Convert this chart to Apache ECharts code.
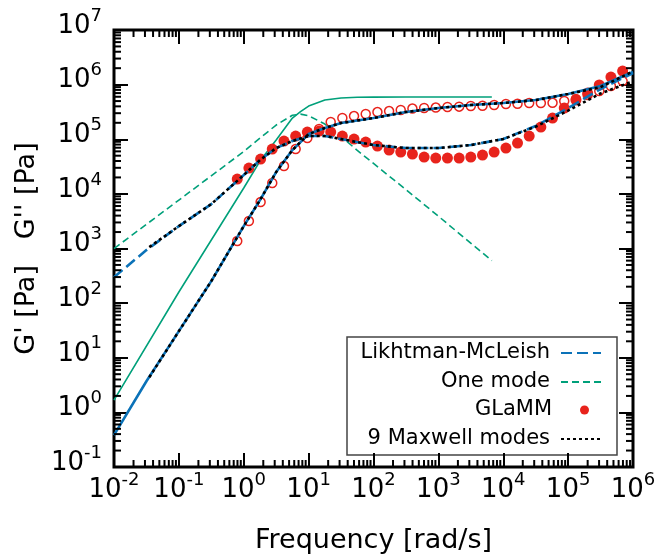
<!DOCTYPE html>
<html>
<head>
<meta charset="utf-8">
<script src="https://cdn.jsdelivr.net/npm/echarts@6/dist/echarts.min.js"></script>
<style>
  html, body { margin: 0; padding: 0; background: #fff; }
  #chart { width: 663px; height: 558px; }
</style>
</head>
<body>
<div id="chart"></div>
<script>
// GLaMM points (open = G', filled = G'')
const glammFreq = [0.794, 1.20, 1.82, 2.75, 4.17, 6.31, 9.55, 14.5, 21.9, 33.1, 50.1, 75.9, 115, 174, 263, 398, 603, 912,
  1380, 2090, 3160, 4790, 7240, 11000, 16600, 25100, 38000, 57500, 87100, 132000, 200000, 302000, 457000, 692000];
const glammGp = [1370, 3180, 7080, 15800, 32300, 66200, 105000, 154000, 207000, 245000, 266000, 290000, 315000, 328000, 343000,
  365000, 373000, 380000, 389000, 395000, 406000, 410000, 423000, 442000, 445000, 460000, 460000, 465000, 501000, 545000,
  645000, 764000, 942000, 1160000];
const glammGpp = [18700, 29700, 43400, 66200, 92700, 114500, 135500, 141300, 135500, 114500, 100900, 88900, 75000, 63400,
  58300, 53600, 47200, 45300, 45300, 45300, 47200, 51400, 58300, 69000, 85100, 114500, 167000, 244500, 372600, 522000,
  702000, 984000, 1377000, 1774000];

// Likhtman-McLeish
const lmFreq = [0.01, 0.0316, 0.1, 0.316, 1, 1.78, 3.16, 5.62, 10, 17.8, 31.6, 100, 316, 1000, 3160, 10000, 31600, 100000, 316000, 1000000];
const lmGp = [0.382, 3.72, 30.7, 253, 2570, 7690, 25100, 63400, 124500, 160300, 198100, 244500, 315000, 372600, 422600,
  460300, 522400, 672900, 942000, 1702000];
const lmGpp = [299, 935, 2570, 6500, 22100, 41600, 69000, 92700, 114500, 114500, 100900, 78300, 69000, 69000, 78300,
  100900, 174600, 372600, 830000, 1630000];

// 9 Maxwell modes
const mmFreq = [0.035, 0.1, 0.316, 1, 1.78, 3.16, 5.62, 10, 17.8, 31.6, 100, 316, 1000, 3160, 10000, 31600, 100000, 316000, 1000000];
const mmGp = [4.4, 30.7, 253, 2570, 7690, 25100, 63400, 124500, 160300, 198100, 244500, 315000, 372600, 422600, 460300,
  522400, 672900, 900000, 1750000];
const mmGpp = [1060, 2570, 6500, 22100, 41600, 69000, 92700, 114500, 114500, 100900, 78300, 69000, 69000, 78300, 100900,
  170000, 335000, 690000, 1150000];

// One mode
const omFreq = [0.01, 0.1, 1, 1.78, 3.16, 5.62, 7.5, 10, 17.8, 31.6, 56.2, 100, 316, 1000, 6670];
const omGp = [1.67, 160, 12800, 39800, 96600, 244000, 320000, 405000, 522000, 570000, 586000, 591000, 593000, 593000, 593000];
const omGpp = [996, 7700, 59600, 105000, 182000, 275000, 288000, 270000, 190000, 112000, 62600, 36000, 12000, 3900, 600];

const FONT = 'DejaVu Sans';
const BLUE = '#0b72b8';
const GREEN = '#00a07a';
const RED = '#e8231c';

function pairs(xs, ys) {
  return xs.map((x, i) => [x, ys[i]]);
}

// minor tick positions 2..9 in each decade
function minorTicks(lo, hi) {
  const out = [];
  for (let e = lo; e < hi; e++) {
    for (let m = 2; m <= 9; m++) out.push(m * Math.pow(10, e));
  }
  return out;
}
const xMinor = minorTicks(-2, 6);
const yMinor = minorTicks(-1, 7);

const powLabel = v => '{b|10}{e|' + Math.round(Math.log10(v)) + '}';
const labelRich = {
  b: { fontFamily: FONT, fontSize: 26, color: '#000', lineHeight: 26, verticalAlign: 'bottom' },
  e: { fontFamily: FONT, fontSize: 18, color: '#000', lineHeight: 18, verticalAlign: 'bottom', padding: [0, 0, 14, 0] }
};

function minorTickSeries(values, isX) {
  return {
    type: 'custom',
    silent: true,
    z: 6,
    data: values.map(v => (isX ? [v, 1] : [1, v])),
    renderItem(params, api) {
      const cs = params.coordSys;
      const p = api.coord([api.value(0), api.value(1)]);
      const L = 7;
      const st = { stroke: '#000', lineWidth: 2 };
      if (isX) {
        return {
          type: 'group',
          children: [
            { type: 'line', shape: { x1: p[0], y1: cs.y + cs.height, x2: p[0], y2: cs.y + cs.height - L }, style: st },
            { type: 'line', shape: { x1: p[0], y1: cs.y, x2: p[0], y2: cs.y + L }, style: st }
          ]
        };
      }
      return {
        type: 'group',
        children: [
          { type: 'line', shape: { x1: cs.x, y1: p[1], x2: cs.x + L, y2: p[1] }, style: st },
          { type: 'line', shape: { x1: cs.x + cs.width, y1: p[1], x2: cs.x + cs.width - L, y2: p[1] }, style: st }
        ]
      };
    }
  };
}

const tickStyle = { inside: true, length: 14, lineStyle: { color: '#000', width: 2 } };

function xAx(pos, withLabels) {
  return {
    type: 'log', logBase: 10, min: 0.01, max: 1e6, splitNumber: 8, position: pos,
    axisLine: { show: false }, axisTick: tickStyle, splitLine: { show: false },
    axisLabel: withLabels
      ? { formatter: powLabel, rich: labelRich, margin: 10, showMinLabel: true, showMaxLabel: true }
      : { show: false },
    name: withLabels ? 'Frequency [rad/s]' : '',
    nameLocation: 'middle', nameGap: 60,
    nameTextStyle: { fontFamily: FONT, fontSize: 27, color: '#000' }
  };
}
function yAx(pos, withLabels) {
  return {
    type: 'log', logBase: 10, min: 0.1, max: 1e7, splitNumber: 8, position: pos,
    axisLine: { show: false }, axisTick: tickStyle, splitLine: { show: false },
    axisLabel: withLabels
      ? { formatter: powLabel, rich: labelRich, margin: 12, padding: [0, 0, 8, 0], showMinLabel: true, showMaxLabel: true }
      : { show: false },
    name: withLabels ? "G' [Pa]   G'' [Pa]" : '',
    nameLocation: 'middle', nameGap: 58,
    nameTextStyle: { fontFamily: FONT, fontSize: 27, color: '#000' }
  };
}

// one legend per row so that the icons line up on the right
const legendBase = {
  orient: 'horizontal', align: 'right', right: 61, padding: 0,
  itemWidth: 40, itemHeight: 12, selectedMode: false,
  itemStyle: { opacity: 0 },
  textStyle: { fontFamily: FONT, fontSize: 21, lineHeight: 24, color: '#000', padding: [0, 6, 0, 0] }
};

const lineSeries = (name, xs, ys, color, type, width, z) => ({
  name, type: 'line', data: pairs(xs, ys), symbol: 'none', z,
  lineStyle: { color, width, type }, itemStyle: { color },
  emphasis: { disabled: true }
});

let myChart = echarts.init(document.getElementById('chart'), null, { renderer: 'canvas' });

let option = {
  animation: false,
  backgroundColor: '#fff',
  grid: {
    left: 114, right: 30, top: 30, bottom: 91,
    show: true, borderColor: '#000', borderWidth: 3,
    containLabel: false, outerBoundsMode: 'none'
  },
  xAxis: [xAx('bottom', true), xAx('top', false)],
  yAxis: [yAx('left', true), yAx('right', false)],
  legend: [
    Object.assign({}, legendBase, { top: 341, data: ['Likhtman-McLeish'] }),
    Object.assign({}, legendBase, { top: 370, data: ['One mode'] }),
    Object.assign({}, legendBase, {
      top: 398, right: 74, itemWidth: 9, itemHeight: 9,
      itemStyle: { opacity: 1 },
      textStyle: Object.assign({}, legendBase.textStyle, { padding: [0, 23, 0, 0] }),
      data: [{ name: 'GLaMM', icon: 'circle' }]
    }),
    Object.assign({}, legendBase, { top: 427, data: ['9 Maxwell modes'] })
  ],
  graphic: [{
    type: 'rect', z: 0,
    shape: { x: 347, y: 337, width: 270, height: 118 },
    style: { fill: '#fff', stroke: '#444', lineWidth: 1.5 }
  }],
  series: [
    lineSeries("One mode G'", omFreq, omGp, GREEN, 'solid', 1.6, 2),
    lineSeries('One mode', omFreq, omGpp, GREEN, [7, 4], 1.6, 2),
    {
      name: "GLaMM G'", type: 'scatter', data: pairs(glammFreq, glammGp), z: 3,
      symbol: 'circle', symbolSize: 9,
      itemStyle: { color: 'rgba(255,255,255,0)', borderColor: RED, borderWidth: 1.5, opacity: 1 },
      emphasis: { disabled: true }
    },
    {
      name: 'GLaMM', type: 'scatter', data: pairs(glammFreq, glammGpp), z: 3,
      symbol: 'circle', symbolSize: 11, itemStyle: { color: RED, opacity: 1 },
      emphasis: { disabled: true }
    },
    lineSeries("Likhtman-McLeish G'", lmFreq, lmGp, BLUE, 'solid', 2.6, 4),
    lineSeries('Likhtman-McLeish', lmFreq, lmGpp, BLUE, [11, 5], 2.6, 4),
    lineSeries('9 Maxwell modes', mmFreq, mmGp, '#000', [3, 3], 2.6, 5),
    lineSeries("9 Maxwell modes G''", mmFreq, mmGpp, '#000', [3, 3], 2.6, 5),
    minorTickSeries(xMinor, true),
    minorTickSeries(yMinor, false)
  ]
};

myChart.setOption(option);
</script>
</body>
</html>
